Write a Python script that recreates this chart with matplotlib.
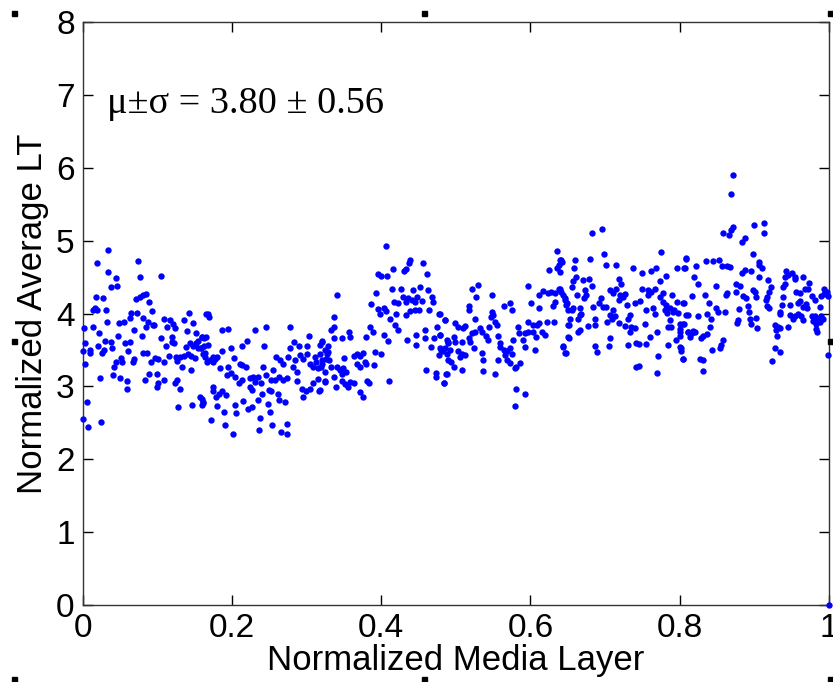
import numpy as np
import matplotlib.pyplot as plt
from matplotlib.patches import Rectangle

plt.rcParams['font.family'] = ['Liberation Sans', 'DejaVu Sans']

# (normalized layer, normalized average LT), left to right
seg_a = [
    (0.034, 4.87), (0.019, 4.70), (0.074, 4.72), (0.034, 4.57), (0.044, 4.49), (0.076, 4.50),
    (0.104, 4.52), (0.037, 4.37), (0.046, 4.38), (0.017, 4.23), (0.027, 4.21), (0.071, 4.20),
    (0.076, 4.23), (0.080, 4.25), (0.085, 4.27), (0.089, 4.16), (0.013, 4.05), (0.016, 4.07),
    (0.019, 4.05), (0.031, 4.05), (0.092, 4.03), (0.064, 4.01), (0.073, 4.01), (0.080, 3.94),
    (0.087, 3.89), (0.094, 3.84), (0.108, 3.92), (0.117, 3.91), (0.121, 3.86), (0.142, 4.01),
    (0.165, 3.99), (0.001, 3.80), (0.013, 3.82), (0.032, 3.89), (0.048, 3.87), (0.055, 3.89),
    (0.063, 3.94), (0.069, 3.78), (0.084, 3.82), (0.095, 3.84), (0.113, 3.82), (0.123, 3.80),
    (0.135, 3.91), (0.140, 3.76), (0.148, 3.87), (0.022, 3.73), (0.047, 3.69), (0.079, 3.69),
    (0.104, 3.67), (0.120, 3.68), (0.120, 3.61), (0.152, 3.73), (0.160, 3.68), (0.154, 3.62),
    (0.165, 3.68), (0.003, 3.60), (0.029, 3.62), (0.038, 3.61), (0.056, 3.60), (0.063, 3.61),
    (0.111, 3.56), (0.122, 3.60), (0.138, 3.54), (0.143, 3.59), (0.147, 3.55), (0.151, 3.60),
    (0.154, 3.53), (0.158, 3.52), (0.162, 3.55), (0.000, 3.48), (0.009, 3.50), (0.010, 3.46),
    (0.020, 3.55), (0.026, 3.46), (0.028, 3.50), (0.039, 3.52), (0.060, 3.48), (0.080, 3.46),
    (0.086, 3.46), (0.125, 3.41), (0.130, 3.40), (0.136, 3.42), (0.141, 3.44), (0.145, 3.42),
    (0.150, 3.39), (0.163, 3.46), (0.003, 3.31), (0.044, 3.34), (0.051, 3.39), (0.053, 3.34),
    (0.067, 3.34), (0.069, 3.37), (0.091, 3.33), (0.097, 3.39), (0.100, 3.37), (0.109, 3.33),
    (0.115, 3.42), (0.126, 3.35), (0.133, 3.27), (0.145, 3.23), (0.042, 3.26), (0.040, 3.16),
    (0.089, 3.17), (0.099, 3.17), (0.023, 3.12), (0.049, 3.12), (0.059, 3.07), (0.059, 2.97),
    (0.083, 3.09), (0.109, 3.09), (0.101, 3.04), (0.099, 2.99), (0.126, 3.09), (0.124, 3.04),
    (0.130, 2.96), (0.005, 2.79), (0.127, 2.72), (0.146, 2.74), (0.159, 2.83), (0.161, 2.77),
    (0.000, 2.55), (0.007, 2.44), (0.024, 2.51),
]

seg_b = [
    (0.167, 3.99), (0.169, 3.95), (0.186, 3.77), (0.195, 3.79), (0.231, 3.77), (0.245, 3.82),
    (0.278, 3.81), (0.159, 3.68), (0.162, 3.66), (0.167, 3.57), (0.187, 3.48), (0.199, 3.52),
    (0.213, 3.55), (0.220, 3.62), (0.243, 3.55), (0.283, 3.61), (0.290, 3.55), (0.300, 3.56),
    (0.303, 3.69), (0.320, 3.61), (0.158, 3.52), (0.161, 3.45), (0.163, 3.40), (0.166, 3.34),
    (0.174, 3.41), (0.177, 3.38), (0.180, 3.41), (0.170, 3.36), (0.174, 3.34), (0.184, 3.25),
    (0.194, 3.26), (0.202, 3.39), (0.210, 3.31), (0.213, 3.29), (0.219, 3.26), (0.193, 3.16),
    (0.199, 3.19), (0.204, 3.13), (0.209, 3.05), (0.213, 3.09), (0.224, 3.11), (0.228, 3.13),
    (0.235, 3.13), (0.231, 3.06), (0.224, 2.99), (0.226, 2.95), (0.239, 3.04), (0.241, 3.27),
    (0.246, 3.16), (0.252, 3.09), (0.257, 3.09), (0.263, 3.13), (0.268, 3.09), (0.274, 3.12),
    (0.255, 3.23), (0.259, 3.41), (0.264, 3.36), (0.268, 3.31), (0.275, 3.40), (0.278, 3.52),
    (0.284, 3.36), (0.282, 3.27), (0.287, 3.20), (0.291, 3.43), (0.295, 3.38), (0.300, 3.45),
    (0.305, 3.31), (0.309, 3.27), (0.313, 3.34), (0.311, 3.40), (0.315, 3.25), (0.320, 3.31),
    (0.326, 3.38), (0.329, 3.47), (0.309, 3.05), (0.315, 3.10), (0.325, 3.08), (0.287, 3.08),
    (0.294, 2.96), (0.299, 2.93), (0.304, 2.96), (0.295, 2.86), (0.317, 2.94), (0.157, 2.86),
    (0.161, 2.79), (0.159, 2.74), (0.175, 2.99), (0.175, 2.93), (0.179, 2.86), (0.187, 2.93),
    (0.192, 2.88), (0.183, 2.89), (0.180, 2.73), (0.204, 2.74), (0.205, 2.63), (0.215, 2.80),
    (0.221, 2.69), (0.227, 2.72), (0.235, 2.82), (0.240, 2.89), (0.249, 2.95), (0.252, 2.94),
    (0.248, 2.76), (0.262, 2.90), (0.263, 2.82), (0.271, 2.79), (0.251, 2.65), (0.189, 2.65),
    (0.172, 2.54), (0.237, 2.56), (0.190, 2.47), (0.201, 2.35), (0.236, 2.40), (0.253, 2.47),
    (0.266, 2.37), (0.273, 2.35), (0.273, 2.48),
]

seg_c = [
    (0.406, 4.93), (0.439, 4.73), (0.437, 4.69), (0.456, 4.69), (0.461, 4.54), (0.396, 4.54),
    (0.400, 4.51), (0.407, 4.52), (0.416, 4.61), (0.430, 4.58), (0.433, 4.61), (0.340, 4.25),
    (0.393, 4.28), (0.414, 4.34), (0.427, 4.33), (0.442, 4.32), (0.452, 4.36), (0.463, 4.32),
    (0.468, 4.22), (0.469, 4.16), (0.386, 4.13), (0.417, 4.16), (0.423, 4.15), (0.429, 4.22),
    (0.433, 4.16), (0.436, 4.21), (0.441, 4.18), (0.445, 4.16), (0.448, 4.23), (0.454, 4.17),
    (0.396, 4.06), (0.398, 4.00), (0.403, 4.08), (0.406, 4.04), (0.420, 3.99), (0.433, 3.98),
    (0.439, 4.04), (0.445, 4.05), (0.450, 4.05), (0.464, 4.05), (0.477, 3.99), (0.485, 3.91),
    (0.412, 3.92), (0.418, 3.84), (0.423, 3.77), (0.475, 3.82), (0.336, 3.95), (0.336, 3.81),
    (0.333, 3.78), (0.336, 3.66), (0.347, 3.67), (0.357, 3.75), (0.358, 3.68), (0.380, 3.68),
    (0.385, 3.82), (0.389, 3.75), (0.403, 3.70), (0.409, 3.62), (0.435, 3.63), (0.447, 3.70),
    (0.459, 3.77), (0.459, 3.67), (0.470, 3.67), (0.479, 3.70), (0.446, 3.57), (0.466, 3.54),
    (0.480, 3.50), (0.485, 3.52), (0.478, 3.43), (0.490, 3.61), (0.320, 3.62), (0.318, 3.57),
    (0.329, 3.55), (0.324, 3.50), (0.327, 3.45), (0.318, 3.45), (0.320, 3.36), (0.319, 3.27),
    (0.330, 3.36), (0.333, 3.27), (0.325, 3.20), (0.324, 3.06), (0.350, 3.39), (0.363, 3.42),
    (0.368, 3.45), (0.371, 3.42), (0.376, 3.46), (0.367, 3.31), (0.371, 3.27), (0.378, 3.34),
    (0.380, 3.31), (0.392, 3.47), (0.400, 3.44), (0.390, 3.29), (0.341, 3.27), (0.345, 3.22),
    (0.347, 3.17), (0.349, 3.25), (0.353, 3.20), (0.336, 3.13), (0.339, 2.99), (0.347, 3.08),
    (0.351, 3.03), (0.356, 2.99), (0.358, 3.06), (0.363, 3.04), (0.371, 2.92), (0.376, 2.86),
    (0.381, 3.08), (0.383, 3.04), (0.410, 3.08), (0.318, 2.95), (0.460, 3.23), (0.473, 3.19),
    (0.473, 3.13), (0.487, 3.17), (0.484, 3.04), (0.490, 3.36),
]

seg_d = [
    (0.636, 4.86), (0.641, 4.73), (0.638, 4.66), (0.635, 4.62), (0.625, 4.60), (0.521, 4.34),
    (0.529, 4.39), (0.527, 4.23), (0.549, 4.25), (0.597, 4.38), (0.611, 4.25), (0.617, 4.31),
    (0.623, 4.28), (0.628, 4.30), (0.633, 4.28), (0.638, 4.34), (0.641, 4.30), (0.646, 4.21),
    (0.649, 4.14), (0.601, 4.15), (0.612, 4.07), (0.630, 4.10), (0.633, 4.16), (0.650, 4.05),
    (0.518, 4.10), (0.517, 4.05), (0.564, 4.10), (0.573, 4.14), (0.575, 4.05), (0.548, 4.02),
    (0.550, 3.98), (0.547, 3.95), (0.526, 3.92), (0.479, 4.00), (0.485, 3.91), (0.499, 3.87),
    (0.503, 3.82), (0.509, 3.80), (0.512, 3.83), (0.532, 3.80), (0.535, 3.75), (0.545, 3.82),
    (0.553, 3.89), (0.555, 3.84), (0.521, 3.73), (0.526, 3.75), (0.517, 3.67), (0.519, 3.61),
    (0.508, 3.61), (0.497, 3.68), (0.499, 3.61), (0.479, 3.70), (0.488, 3.64), (0.490, 3.59),
    (0.479, 3.52), (0.483, 3.48), (0.488, 3.45), (0.492, 3.50), (0.503, 3.48), (0.508, 3.44),
    (0.512, 3.43), (0.506, 3.41), (0.524, 3.52), (0.535, 3.46), (0.537, 3.36), (0.541, 3.69),
    (0.543, 3.64), (0.557, 3.69), (0.559, 3.60), (0.559, 3.54), (0.564, 3.50), (0.568, 3.48),
    (0.573, 3.52), (0.566, 3.43), (0.577, 3.64), (0.575, 3.45), (0.583, 3.82), (0.585, 3.73),
    (0.593, 3.73), (0.597, 3.75), (0.603, 3.74), (0.608, 3.68), (0.615, 3.75), (0.619, 3.70),
    (0.590, 3.64), (0.593, 3.54), (0.597, 3.89), (0.604, 3.84), (0.609, 3.84), (0.612, 3.87),
    (0.622, 3.89), (0.632, 3.89), (0.606, 3.50), (0.650, 3.84), (0.650, 3.68), (0.643, 3.55),
    (0.647, 3.46), (0.494, 3.33), (0.497, 3.27), (0.508, 3.22), (0.488, 3.17), (0.484, 3.04),
    (0.537, 3.21), (0.553, 3.17), (0.557, 3.36), (0.568, 3.36), (0.573, 3.32), (0.579, 3.25),
    (0.586, 3.32), (0.581, 3.27), (0.581, 2.97), (0.592, 2.90), (0.579, 2.73),
]

seg_e = [
    (0.682, 5.10), (0.696, 5.16), (0.699, 4.82), (0.680, 4.75), (0.660, 4.74), (0.775, 4.84),
    (0.808, 4.76), (0.639, 4.74), (0.642, 4.71), (0.701, 4.67), (0.715, 4.67), (0.738, 4.62),
    (0.750, 4.56), (0.762, 4.59), (0.768, 4.62), (0.796, 4.62), (0.807, 4.62), (0.659, 4.62),
    (0.782, 4.51), (0.639, 4.57), (0.661, 4.50), (0.657, 4.44), (0.655, 4.36), (0.671, 4.46),
    (0.679, 4.48), (0.682, 4.38), (0.673, 4.32), (0.675, 4.25), (0.672, 4.21), (0.719, 4.48),
    (0.722, 4.41), (0.750, 4.34), (0.758, 4.32), (0.767, 4.34), (0.773, 4.44), (0.639, 4.34),
    (0.644, 4.25), (0.646, 4.18), (0.648, 4.11), (0.662, 4.25), (0.655, 4.05), (0.657, 4.07),
    (0.666, 4.07), (0.668, 4.00), (0.684, 4.09), (0.695, 4.21), (0.692, 4.14), (0.697, 4.09),
    (0.706, 4.32), (0.711, 4.28), (0.715, 4.33), (0.720, 4.25), (0.724, 4.23), (0.719, 4.18),
    (0.727, 4.27), (0.701, 4.09), (0.706, 3.98), (0.711, 4.05), (0.713, 3.96), (0.709, 3.93),
    (0.729, 4.11), (0.740, 4.15), (0.747, 4.17), (0.755, 4.05), (0.764, 4.07), (0.767, 4.00),
    (0.757, 4.25), (0.762, 4.30), (0.773, 4.23), (0.778, 4.28), (0.778, 4.16), (0.782, 4.11),
    (0.780, 4.05), (0.787, 4.07), (0.791, 4.02), (0.793, 4.05), (0.798, 4.01), (0.783, 4.01),
    (0.790, 4.26), (0.796, 4.16), (0.805, 4.14), (0.809, 3.98), (0.666, 3.98), (0.664, 3.93),
    (0.686, 3.93), (0.651, 3.84), (0.653, 3.93), (0.677, 3.83), (0.687, 3.84), (0.664, 3.75),
    (0.667, 3.77), (0.702, 3.89), (0.718, 3.87), (0.727, 3.83), (0.731, 3.93), (0.733, 3.98),
    (0.735, 3.82), (0.740, 3.80), (0.733, 3.74), (0.753, 3.85), (0.770, 3.74), (0.787, 3.91),
    (0.789, 3.82), (0.785, 3.81), (0.800, 3.86), (0.805, 3.85), (0.800, 3.74), (0.811, 3.75),
    (0.652, 3.66), (0.706, 3.66), (0.705, 3.55), (0.686, 3.55), (0.689, 3.47), (0.731, 3.57),
    (0.742, 3.60), (0.745, 3.58), (0.755, 3.58), (0.760, 3.68), (0.785, 3.57), (0.795, 3.64),
    (0.800, 3.54), (0.802, 3.48), (0.804, 3.38), (0.644, 3.54), (0.646, 3.46), (0.771, 3.42),
    (0.742, 3.27), (0.746, 3.28), (0.770, 3.18),
]

seg_f = [
    (0.872, 5.90), (0.869, 5.64), (0.900, 5.21), (0.913, 5.24), (0.913, 5.11), (0.858, 5.11),
    (0.866, 5.08), (0.869, 5.14), (0.872, 5.19), (0.883, 4.98), (0.887, 5.03), (0.898, 4.81),
    (0.808, 4.75), (0.835, 4.72), (0.845, 4.72), (0.853, 4.74), (0.806, 4.62), (0.822, 4.65),
    (0.857, 4.65), (0.863, 4.65), (0.868, 4.64), (0.883, 4.55), (0.887, 4.60), (0.895, 4.59),
    (0.907, 4.71), (0.906, 4.66), (0.910, 4.63), (0.907, 4.50), (0.819, 4.50), (0.825, 4.40),
    (0.876, 4.40), (0.881, 4.38), (0.919, 4.46), (0.849, 4.38), (0.863, 4.28), (0.862, 4.25),
    (0.875, 4.29), (0.898, 4.32), (0.901, 4.30), (0.922, 4.36), (0.920, 4.30), (0.917, 4.23),
    (0.916, 4.19), (0.942, 4.59), (0.941, 4.50), (0.945, 4.53), (0.951, 4.55), (0.954, 4.50),
    (0.954, 4.47), (0.966, 4.50), (0.941, 4.40), (0.939, 4.37), (0.974, 4.42), (0.972, 4.34),
    (0.956, 4.29), (0.961, 4.28), (0.968, 4.34), (0.993, 4.34), (0.997, 4.30), (0.993, 4.27),
    (0.990, 4.24), (0.999, 4.24), (0.977, 4.24), (0.981, 4.19), (0.817, 4.24), (0.834, 4.26),
    (0.885, 4.24), (0.889, 4.21), (0.903, 4.22), (0.806, 4.14), (0.840, 4.14), (0.849, 4.08),
    (0.851, 4.02), (0.861, 4.02), (0.880, 4.06), (0.892, 4.10), (0.893, 4.02), (0.917, 4.10),
    (0.920, 4.08), (0.939, 4.22), (0.937, 4.12), (0.948, 4.12), (0.959, 4.14), (0.962, 4.17),
    (0.966, 4.09), (0.969, 4.13), (0.971, 4.07), (0.988, 4.09), (0.811, 3.98), (0.836, 4.00),
    (0.842, 3.93), (0.878, 3.91), (0.877, 3.87), (0.894, 3.93), (0.895, 3.85), (0.903, 3.94),
    (0.934, 4.02), (0.935, 4.00), (0.948, 3.98), (0.952, 3.92), (0.955, 3.96), (0.959, 3.99),
    (0.965, 3.91), (0.963, 3.96), (0.977, 3.96), (0.981, 3.96), (0.986, 3.93), (0.990, 3.96),
    (0.979, 3.90), (0.983, 3.86), (0.988, 3.89), (0.992, 3.92), (0.806, 3.86), (0.825, 3.96),
    (0.841, 3.82), (0.904, 3.80), (0.928, 3.84), (0.932, 3.82), (0.935, 3.80), (0.929, 3.78),
    (0.945, 3.82), (0.983, 3.79), (0.984, 3.75), (0.811, 3.75), (0.816, 3.73), (0.818, 3.76),
    (0.814, 3.68), (0.820, 3.75), (0.829, 3.66), (0.831, 3.69), (0.836, 3.72), (0.800, 3.79),
    (0.800, 3.69), (0.858, 3.63), (0.856, 3.57), (0.854, 3.52), (0.844, 3.50), (0.802, 3.52),
    (0.805, 3.38), (0.827, 3.37), (0.831, 3.36), (0.831, 3.21), (0.930, 3.69), (0.928, 3.52),
    (0.934, 3.47), (0.924, 3.35), (0.999, 3.43), (1.000, 0.00),
]

pts = np.array(seg_a + seg_b + seg_c + seg_d + seg_e + seg_f)
x = pts[:, 0]
y = pts[:, 1]

x_ticks = [0, 0.2, 0.4, 0.6, 0.8, 1]
x_labels = ['0', '0.2', '0.4', '0.6', '0.8', '1']
y_ticks = [0, 1, 2, 3, 4, 5, 6, 7, 8]

fig = plt.figure(figsize=(8.33, 6.82), dpi=100)
ax = fig.add_axes([0.0996, 0.1129, 0.8954, 0.8548])

ax.scatter(x, y, s=21, c='#0000ff', marker='o', linewidths=0, clip_on=False, zorder=3)

ax.set_xlim(0, 1)
ax.set_ylim(0, 8)
ax.set_xticks(x_ticks)
ax.set_xticklabels(x_labels)
ax.set_yticks(y_ticks)
ax.tick_params(direction='in', length=7, width=1, top=True, right=True,
               labelsize=24, pad=6)
for s in ax.spines.values():
    s.set_linewidth(1)
    s.set_color('#333333')

ax.set_xlabel('Normalized Media Layer', fontsize=25, labelpad=0)
ax.set_ylabel('Normalized Average LT', fontsize=25, labelpad=5)

ax.text(0.032, 6.88, 'μ±σ = 3.80 ± 0.56', family='Liberation Serif',
        fontsize=27.5, va='center', ha='left')

# small black marks left from the figure export (corners and edge middles)
W, H = 833.0, 682.0
for px in (12, 422, 828):
    for py in (11, 339, 677):
        if px == 422 and py == 339:
            continue
        fig.add_artist(Rectangle((px / W, 1 - (py + 5) / H), 5 / W, 5 / H,
                                 transform=fig.transFigure, color='black', zorder=10))

fig.savefig('out.png', dpi=100)
